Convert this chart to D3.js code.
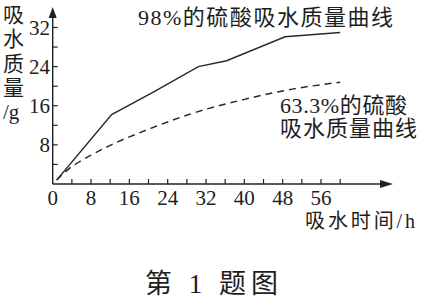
<!DOCTYPE html>
<html><head><meta charset="utf-8">
<script src="https://cdn.jsdelivr.net/npm/d3@7"></script>
<style>
html,body{margin:0;padding:0;background:#fff;}
svg{display:block;}
text{fill:#1e1e1e;}
</style></head>
<body>
<svg id="c" width="424" height="299"></svg>
<script>
// Data
const strongHours = [1, 12.3, 21, 30.4, 36.3, 48.5, 60];
const strongMass  = [1, 14.2, 18.8, 24, 25.2, 30.1, 31];
const weakHours = [0.8, 3, 8, 12, 20, 30, 40, 50, 60];
const weakMass  = [0.8, 2.8, 5.9, 7.9, 11.2, 14.7, 17.3, 19.4, 20.8];
const xTickLabels = [0, 8, 16, 24, 32, 40, 48, 56];
const yTickLabels = [8, 16, 24, 32];
const xMinorTicks = [4,8,12,16,20,24,28,32,36,40,44,48,52,56,60];
const yMinorTicks = [4,8,12,16,20,24,28,32];
const strongLabel = "98%的硫酸吸水质量曲线";
const weakLabel = ["63.3%的硫酸", "吸水质量曲线"];
const yTitle = ["吸", "水", "质", "量", "/g"];
const xTitle = "吸水时间/h";
const caption = "第 1 题图";

const svg = d3.select("#c");
const FONT = "'Liberation Serif','Noto Sans CJK SC',serif";
const x = d3.scaleLinear().domain([0, 56]).range([52.7, 321]);
const y = d3.scaleLinear().domain([0, 32]).range([184, 27.5]);
const ink = "#222";

// axes lines
svg.append("line").attr("x1", x(0)).attr("y1", y(0)).attr("x2", x(0)).attr("y2", 12)
  .attr("stroke", ink).attr("stroke-width", 1.4);
svg.append("line").attr("x1", x(0)).attr("y1", y(0)).attr("x2", 386).attr("y2", y(0))
  .attr("stroke", ink).attr("stroke-width", 1.4);
// arrows
svg.append("path").attr("d", `M${x(0)},7 L${x(0)-4},18 L${x(0)+4},18 Z`).attr("fill", ink);
svg.append("path").attr("d", `M393,${y(0)} L380,${y(0)-4} L380,${y(0)+4} Z`).attr("fill", ink);

// ticks
svg.selectAll(".xt").data(xMinorTicks).enter().append("line")
  .attr("x1", d => x(d)).attr("x2", d => x(d)).attr("y1", y(0)).attr("y2", y(0) - 5)
  .attr("stroke", ink).attr("stroke-width", 1.2);
svg.selectAll(".yt").data(yMinorTicks).enter().append("line")
  .attr("y1", d => y(d)).attr("y2", d => y(d)).attr("x1", x(0)).attr("x2", x(0) + 5)
  .attr("stroke", ink).attr("stroke-width", 1.2);

// tick labels
svg.selectAll(".xl").data(xTickLabels).enter().append("text")
  .attr("x", d => x(d)).attr("y", 205).attr("text-anchor", "middle")
  .attr("font-family", FONT).attr("font-size", 21).text(d => d);
svg.selectAll(".yl").data(yTickLabels).enter().append("text")
  .attr("x", 50).attr("y", d => y(d) + 7).attr("text-anchor", "end")
  .attr("font-family", FONT).attr("font-size", 21).text(d => d);

// y title
svg.selectAll(".ytt").data(yTitle).enter().append("text")
  .attr("x", 3).attr("y", (d, i) => 22 + i * 24.3)
  .attr("font-family", FONT).attr("font-size", 21).text(d => d);

// x title
svg.append("text").attr("x", 305).attr("y", 228).attr("font-family", FONT)
  .attr("font-size", 20).attr("textLength", 110).attr("lengthAdjust", "spacing").text(xTitle);

// lines
const line = d3.line().x(d => x(d[0])).y(d => y(d[1]));
svg.append("path").datum(strongHours.map((h, i) => [h, strongMass[i]]))
  .attr("d", line).attr("fill", "none").attr("stroke", "#2a2a2a").attr("stroke-width", 1.5);
const curve = d3.line().x(d => x(d[0])).y(d => y(d[1])).curve(d3.curveMonotoneX);
svg.append("path").datum(weakHours.map((h, i) => [h, weakMass[i]]))
  .attr("d", curve).attr("fill", "none").attr("stroke", "#2a2a2a").attr("stroke-width", 1.5)
  .attr("stroke-dasharray", "7,5");

// labels
svg.append("text").attr("x", 138).attr("y", 25).attr("font-family", FONT)
  .attr("font-size", 22).attr("textLength", 255).attr("lengthAdjust", "spacing").text(strongLabel);
const weakLens = [127, 137];
svg.selectAll(".wl").data(weakLabel).enter().append("text")
  .attr("x", 280).attr("y", (d, i) => 113 + i * 23).attr("font-family", FONT)
  .attr("font-size", 22).attr("textLength", (d, i) => weakLens[i]).attr("lengthAdjust", "spacing")
  .text(d => d);

// caption
svg.append("text").attr("x", 145).attr("y", 293).attr("font-family", FONT)
  .attr("font-size", 27).attr("textLength", 133).attr("lengthAdjust", "spacing").text(caption);
</script>
</body></html>
